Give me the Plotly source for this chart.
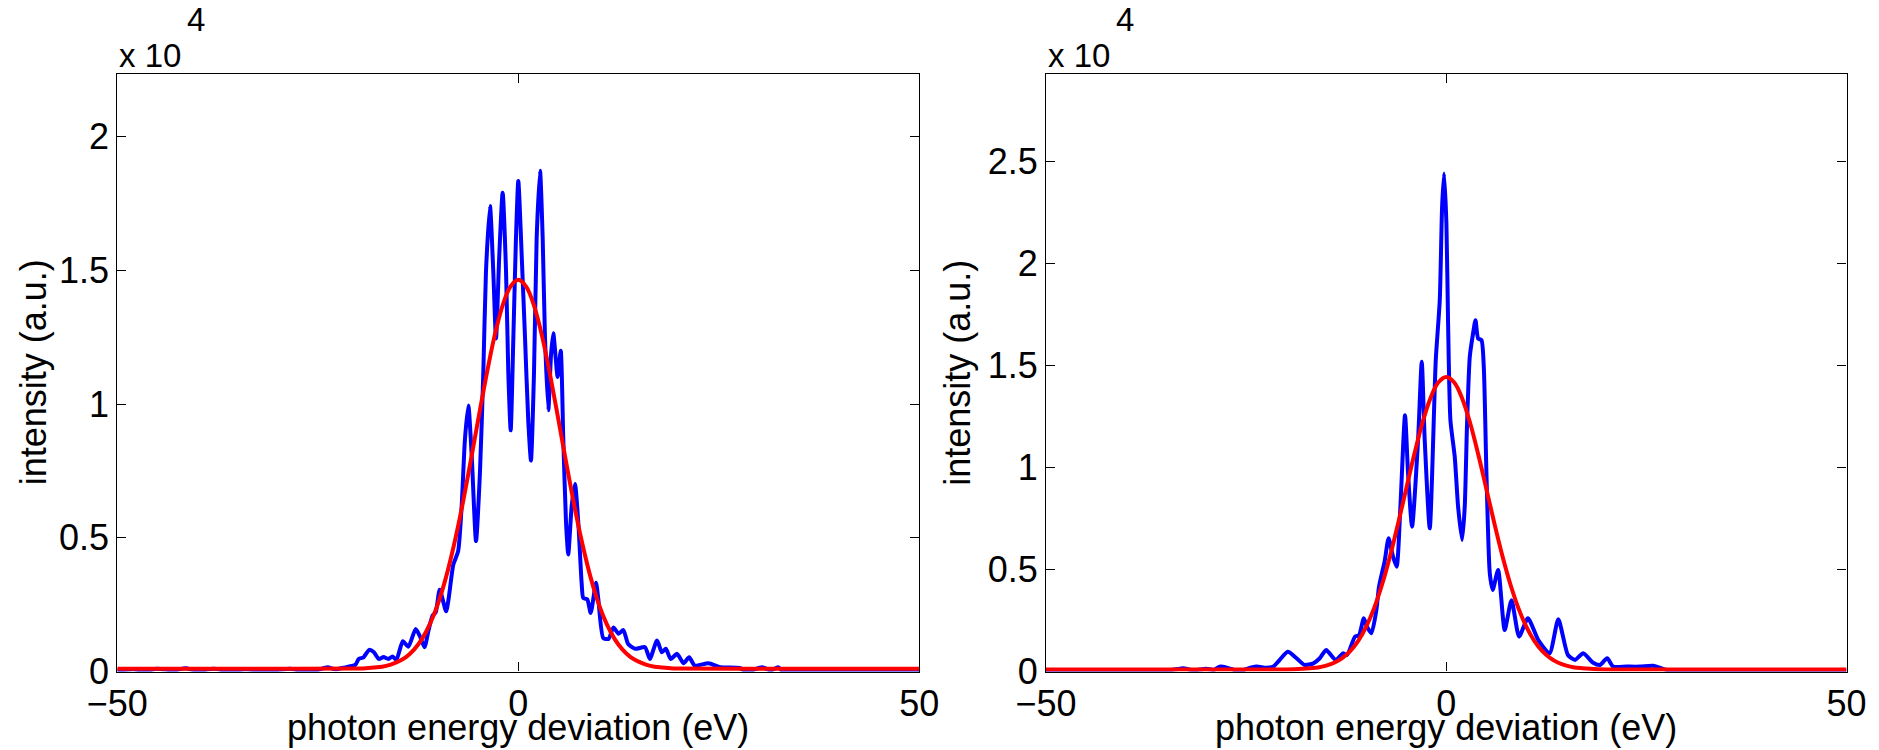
import plotly.graph_objects as go

# ---------------- data (intensity in units of 1e4) ----------------
left_blue_x = [-50, -48, -46.5, -45, -43, -41.5, -40, -38, -36, -34, -32, -30, -28.5, -27, -25.5,
               -25.1, -23.8, -22.8, -21.8, -20.3, -19.9, -19.3, -18.6, -18.0, -17.4, -16.8, -16.2,
               -15.7, -15.2, -14.4, -13.7, -12.8, -12.3, -11.7, -11.2, -10.7, -10.3, -9.8, -9.0,
               -8.7, -8.1, -7.5, -7.06, -6.65, -6.23, -5.81, -5.27, -4.78, -4.36, -4.03, -3.53,
               -3.12, -2.78, -2.37, -1.95, -1.53, -1.25, -0.95, -0.62, -0.29, 0.0, 0.42, 0.84,
               1.25, 1.58, 1.96, 2.29, 2.71, 3.04, 3.33, 3.74, 4.08, 4.36, 4.91, 5.29, 5.61, 5.95,
               6.23, 6.66, 7.07, 7.48, 7.9, 8.1, 8.6, 9.03, 9.69, 9.98, 10.6, 11.25, 11.87, 12.5,
               13.1, 13.7, 14.6, 15.8, 16.4, 17.3, 17.9, 18.4, 19.0, 19.8, 20.6, 21.3, 22.0, 23.7,
               25.2, 27.6, 28.5, 30.4, 31.5, 32.4, 33.0, 35, 37, 39.5, 42, 44, 46, 48, 50]
left_blue_y = [0.003, 0.008, 0.002, 0.010, 0.004, 0.012, 0.003, 0.010, 0.002, 0.008, 0.003, 0.006, 0.010, 0.004, 0.006,
               0.005, 0.016, 0.008, 0.014, 0.026, 0.047, 0.053, 0.081, 0.072, 0.047, 0.054, 0.047,
               0.056, 0.044, 0.113, 0.093, 0.159, 0.134, 0.091, 0.153, 0.209, 0.221, 0.306, 0.225,
               0.27, 0.40, 0.45, 0.62, 0.87, 0.995, 0.808, 0.488, 0.745, 1.121, 1.497, 1.741,
               1.497, 1.246, 1.559, 1.791, 1.497, 1.121, 0.902, 1.246, 1.622, 1.835, 1.559, 1.246,
               0.933, 0.789, 1.121, 1.622, 1.873, 1.622, 1.246, 0.977, 1.184, 1.265, 1.102, 1.200, 0.870, 0.557,
               0.438, 0.620, 0.701, 0.557, 0.330, 0.275, 0.270, 0.219, 0.332, 0.270, 0.125, 0.122, 0.165, 0.141,
               0.155, 0.103, 0.085, 0.091, 0.047, 0.116, 0.072, 0.085, 0.047, 0.066, 0.031, 0.053, 0.022, 0.031,
               0.016, 0.013, 0.0, 0.016, 0.004, 0.016, 0.0, 0.003, 0.006, 0.002, 0.005, 0.001, 0.004, 0.002, 0.003]

fit_x = [-50, -30, -20, -19, -18, -17, -16, -15, -14, -13, -12, -11, -10, -9, -8, -7, -6, -5, -4, -3, -2, -1,
         0, 1, 2, 3, 4, 5, 6, 7, 8, 9, 10, 11, 12, 13, 14, 15, 16, 17, 18, 19, 20, 30, 50]
left_fit_y = [0.010, 0.010, 0.011, 0.012, 0.015, 0.018, 0.025, 0.037, 0.054, 0.082, 0.122, 0.179, 0.255, 0.354,
              0.476, 0.618, 0.777, 0.942, 1.104, 1.250, 1.365, 1.439,
              1.465, 1.439, 1.365, 1.250, 1.104, 0.942, 0.777, 0.618, 0.476, 0.354, 0.255, 0.179, 0.122,
              0.082, 0.054, 0.037, 0.025, 0.018, 0.015, 0.012, 0.011, 0.010, 0.010]

right_blue_x = [-50, -46, -42, -38, -35, -33.5, -32.9, -31.5, -30, -29, -28.3, -27.3, -25.8, -25, -23.7,
                -22.5, -21.6, -21.0, -19.8, -18.7, -17.7, -16.6, -15.8, -15.0, -13.8, -12.9, -12.4,
                -11.4, -10.9, -10.3, -9.9, -9.35, -8.73, -8.4, -7.7, -7.2, -6.65, -6.2, -5.73, -5.15,
                -4.77, -4.27, -3.52, -3.06, -2.69, -2.06, -1.31, -0.81, -0.52, -0.27, 0.02, 0.23, 0.52,
                1.06, 1.48, 1.98, 2.31, 2.6, 2.94, 3.35, 3.65, 3.98, 4.4, 4.69, 5.02, 5.44, 5.8, 6.48,
                7.3, 8.15, 9.1, 10.2, 11.5, 12.9, 14.0, 15.2, 16.1, 17.1, 18.35, 19.2, 20.1, 20.85,
                22.5, 24.2, 25.85, 27.5, 29, 32, 36, 40, 45, 50]
right_blue_y = [0.002, 0.004, 0.001, 0.003, 0.005, 0.012, 0.016, 0.006, 0.014, 0.008, 0.024, 0.018, 0.0, 0.012, 0.024,
                0.018, 0.024, 0.048, 0.097, 0.065, 0.032, 0.040, 0.065, 0.105, 0.056, 0.089, 0.081,
                0.171, 0.178, 0.261, 0.220, 0.187, 0.301, 0.416, 0.540, 0.653, 0.563, 0.514, 0.808, 1.257,
                0.971, 0.710, 1.135, 1.519, 1.135, 0.702, 1.527, 1.821, 2.278, 2.442, 2.197, 1.707, 1.233,
                1.053, 0.808, 0.645, 0.808, 1.217, 1.543, 1.658, 1.723, 1.633, 1.625, 1.494, 0.972, 0.481, 0.400, 0.498,
                0.203, 0.350, 0.171, 0.261, 0.154, 0.089, 0.256, 0.081, 0.057, 0.089, 0.043, 0.032, 0.065, 0.024,
                0.024, 0.024, 0.028, 0.008, 0.0, 0.003, 0.001, 0.003, 0.002, 0.002]

right_fit_y = [0.010, 0.010, 0.010, 0.011, 0.013, 0.016, 0.020, 0.029, 0.043, 0.066, 0.100, 0.150, 0.220, 0.312,
               0.429, 0.569, 0.728, 0.897, 1.064, 1.216, 1.338, 1.417,
               1.444, 1.417, 1.338, 1.216, 1.064, 0.897, 0.728, 0.569, 0.429, 0.312, 0.220, 0.150, 0.100,
               0.066, 0.043, 0.029, 0.020, 0.016, 0.013, 0.011, 0.010, 0.010, 0.010]

x_ticks = [-50, 0, 50]
left_y_ticks = [0, 0.5, 1, 1.5, 2]
right_y_ticks = [0, 0.5, 1, 1.5, 2, 2.5]
left_y_max = 2.235
right_y_max = 2.93

x_title = "photon energy deviation (eV)"
y_title = "intensity (a.u.)"

# ---------------- figure ----------------
W, H = 1879, 750
FONT = "Liberation Sans, Arial, Helvetica, sans-serif"
FS = 36
FS_EXP = 33
BLUE = "#0000FF"
RED = "#FF0000"
LW = 4

fig = go.Figure()
fig.add_trace(go.Scatter(x=left_blue_x, y=left_blue_y, mode="lines",
                         line=dict(color=BLUE, width=LW, shape="spline", smoothing=0.6),
                         xaxis="x", yaxis="y", showlegend=False))
fig.add_trace(go.Scatter(x=fit_x, y=left_fit_y, mode="lines",
                         line=dict(color=RED, width=LW, shape="spline", smoothing=1.0),
                         xaxis="x", yaxis="y", showlegend=False))
fig.add_trace(go.Scatter(x=right_blue_x, y=right_blue_y, mode="lines",
                         line=dict(color=BLUE, width=LW, shape="spline", smoothing=0.6),
                         xaxis="x2", yaxis="y2", showlegend=False))
fig.add_trace(go.Scatter(x=fit_x, y=right_fit_y, mode="lines",
                         line=dict(color=RED, width=LW, shape="spline", smoothing=1.0),
                         xaxis="x2", yaxis="y2", showlegend=False))

xd1 = [117.3 / W, 919.3 / W]
xd2 = [1046.0 / W, 1846.5 / W]
yd = [(H - 671.5) / H, (H - 74.0) / H]

axis_common = dict(showline=True, linecolor="black", linewidth=1.2, mirror="ticks",
                   ticks="inside", ticklen=9, tickwidth=1, tickcolor="black",
                   showgrid=False, zeroline=False, automargin=False,
                   tickfont=dict(family=FONT, size=FS, color="black"))

fig.update_layout(
    width=W, height=H,
    margin=dict(l=0, r=0, t=0, b=0, pad=0),
    paper_bgcolor="white", plot_bgcolor="white",
    font=dict(family=FONT, size=FS, color="black"),
    xaxis=dict(domain=xd1, range=[-50, 50], tickvals=x_ticks, anchor="y", **axis_common),
    yaxis=dict(domain=yd, range=[0, left_y_max], tickvals=left_y_ticks, anchor="x", **axis_common),
    xaxis2=dict(domain=xd2, range=[-50, 50], tickvals=x_ticks, anchor="y2", **axis_common),
    yaxis2=dict(domain=yd, range=[0, right_y_max], tickvals=right_y_ticks, anchor="x2", **axis_common),
)

ann = []
for xl, xr in (xd1, xd2):
    xc = (xl + xr) / 2
    ann.append(dict(text=x_title, x=xc, y=1 - 727 / H, xref="paper", yref="paper",
                    xanchor="center", yanchor="middle", showarrow=False,
                    font=dict(family=FONT, size=FS, color="black")))
    ann.append(dict(text="x 10", x=xl, y=1 - 55 / H, xref="paper", yref="paper",
                    xanchor="left", yanchor="middle", showarrow=False,
                    font=dict(family=FONT, size=FS_EXP, color="black")))
    ann.append(dict(text="4", x=xl + 68 / W, y=1 - 20 / H, xref="paper", yref="paper",
                    xanchor="left", yanchor="middle", showarrow=False,
                    font=dict(family=FONT, size=FS_EXP, color="black")))
ann.append(dict(text=y_title, x=33.5 / W, y=(yd[0] + yd[1]) / 2, xref="paper", yref="paper",
                xanchor="center", yanchor="middle", textangle=-90, showarrow=False,
                font=dict(family=FONT, size=FS, color="black")))
ann.append(dict(text=y_title, x=958 / W, y=(yd[0] + yd[1]) / 2, xref="paper", yref="paper",
                xanchor="center", yanchor="middle", textangle=-90, showarrow=False,
                font=dict(family=FONT, size=FS, color="black")))
fig.update_layout(annotations=ann)

fig.write_html("out.html",
               config={"displayModeBar": False},
               post_script="document.body.style.margin='0';document.body.style.overflow='hidden';")
